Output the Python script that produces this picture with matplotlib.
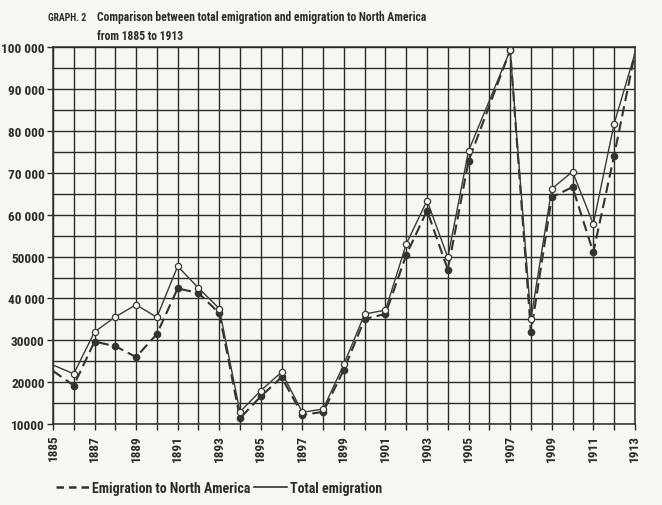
import matplotlib.pyplot as plt
from matplotlib.lines import Line2D
from matplotlib import font_manager

# --- data (1906 has no point, lines go straight 1905 -> 1907) ---
years = [1885, 1886, 1887, 1888, 1889, 1890, 1891, 1892, 1893, 1894,
         1895, 1896, 1897, 1898, 1899, 1900, 1901, 1902, 1903, 1904,
         1905, 1907, 1908, 1909, 1910, 1911, 1912, 1913]
total = [24100, 22000, 32000, 35600, 38500, 35500, 47700, 42500, 37600, 12900,
         18000, 22400, 12800, 13600, 24300, 36300, 37200, 53000, 63400, 49800,
         75300, 99300, 35100, 66200, 70300, 57800, 81700, 98500]
north_america = [22700, 19200, 29700, 28600, 26000, 31500, 42400, 41300, 36500, 11400,
                 16600, 21200, 12200, 12900, 23000, 35100, 36300, 50400, 61000, 46900,
                 72900, 99300, 31900, 64200, 66600, 51000, 74100, 98500]

y_ticks = [10000, 20000, 30000, 40000, 50000, 60000, 70000, 80000, 90000, 100000]
y_labels = ['10000', '20000', '30000', '40 000', '50000',
            '60 000', '70 000', '80 000', '90 000', '100 000']
x_ticks = list(range(1885, 1914, 2))

paper = '#f8f6f1'
ink = '#2b2b2b'

# narrow sans if there is one, else Liberation Sans
names = {f.name for f in font_manager.fontManager.ttflist}
narrow = [n for n in ['Liberation Sans Narrow', 'Roboto Condensed'] if n in names]
if narrow:
    font = [narrow[0], 'DejaVu Sans']
    fs_title, fs_tick, fs_leg, fs_small = 8.4, 9.5, 10, 7
else:
    font = ['Liberation Sans', 'DejaVu Sans']
    fs_title, fs_tick, fs_leg, fs_small = 7, 8, 8.5, 5.5

fig = plt.figure(figsize=(6.62, 5.06), dpi=100, facecolor=paper)
ax = fig.add_axes([0.080, 0.160, 0.879, 0.7445])
ax.set_facecolor(paper)

# grid: every year, every 5000
for yr in range(1885, 1914):
    ax.axvline(yr, color=ink, lw=1.0, zorder=1)
for v in range(10000, 100001, 5000):
    ax.axhline(v, color=ink, lw=1.0, zorder=1)

marks = list(range(1, len(years) - 1))
ax.plot(years, north_america, color='#333333', lw=1.5, ls=(0, (5, 2.5)),
        marker='o', markersize=4.5, markerfacecolor='#333333',
        markeredgecolor='#333333', markevery=marks, zorder=3)
ax.plot(years, total, color='#3a3a3a', lw=1.0,
        marker='o', markersize=4.5, markerfacecolor=paper,
        markeredgecolor='#3a3a3a', markeredgewidth=0.9, markevery=marks, zorder=4)

ax.set_xlim(1885, 1913)
ax.set_ylim(10000, 100000)
ax.set_xticks(x_ticks)
ax.set_xticklabels([str(y) for y in x_ticks], rotation=90, family=font,
                   fontsize=fs_tick, fontweight='bold', color=ink)
ax.set_xticks(range(1885, 1914), minor=True)
ax.set_yticks(y_ticks)
ax.set_yticklabels(y_labels, family=font, fontsize=fs_tick, fontweight='bold', color=ink)
ax.tick_params(axis='x', which='both', length=4, width=1.0, color=ink, pad=3)
ax.tick_params(axis='y', length=4, width=1.0, color=ink, pad=2)
for s in ax.spines.values():
    s.set_color(ink)
    s.set_linewidth(1.1)

# title
fig.text(0.073, 0.964, 'GRAPH. 2', family=font, fontsize=fs_small, fontweight='bold',
         color=ink, va='center')
fig.text(0.147, 0.966, 'Comparison between total emigration and emigration to North America',
         family=font, fontsize=fs_title, fontweight='bold', color=ink, va='center')
fig.text(0.147, 0.927, 'from 1885 to 1913',
         family=font, fontsize=fs_title, fontweight='bold', color=ink, va='center')

# legend at the bottom
handles = [Line2D([], [], color='#333333', lw=1.8, ls=(0, (3, 2))),
           Line2D([], [], color='#333333', lw=1.2)]
fig.legend(handles, ['Emigration to North America', 'Total emigration'],
           loc='lower left', bbox_to_anchor=(0.065, -0.005), ncol=2, frameon=False,
           handlelength=2.4, handletextpad=0.2, columnspacing=0.3,
           prop={'family': font, 'size': fs_leg, 'weight': 'bold'}, labelcolor=ink)

fig.savefig('out.png', dpi=100, facecolor=paper)
